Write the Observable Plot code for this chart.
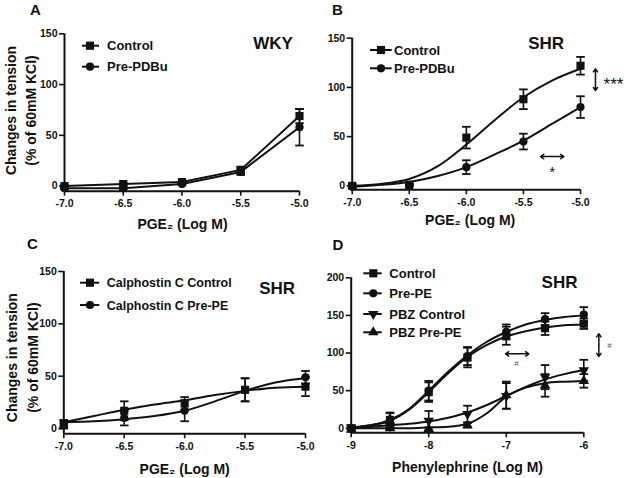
<!DOCTYPE html>
<html><head><meta charset="utf-8">
<script src="https://cdn.jsdelivr.net/npm/d3@7"></script>
<script src="https://cdn.jsdelivr.net/npm/@observablehq/plot@0.6"></script>
<style>
body{margin:0;background:#fff;}
#fig{position:relative;width:629px;height:478px;overflow:hidden;background:#fff;}
#fig svg{position:absolute;}
</style></head><body><div id="fig"></div>
<script>
// ---------- data ----------
// Panel A (WKY, PGE2)
const doseA = [-7, -6.5, -6, -5.5, -5];
const aControl = [0, 2, 4, 16, 69];
const aControlSem = [1, 1, 1, 3, 7];
const aPre = [-2, -2, 2, 14, 58];
const aPreSem = [1, 1, 1, 3, 18];

// Panel B (SHR, PGE2)
const doseB = [-7, -6.5, -6, -5.5, -5];
const bControl = [0, 1, 49, 88, 122];
const bControlSem = [2, 1, 11, 10, 9];
const bPre = [-1, 1, 19, 45, 80];
const bPreSem = [1, 1, 7, 8, 11];
const fitDoseB = [-7, -6.75, -6.5, -6.25, -6, -5.75, -5.5, -5.25, -5];
const bControlFit = [0, 2, 7, 20, 42, 67, 90, 107, 119];
const bPreFit = [-1, 1, 4, 10, 19, 32, 46, 63, 80];

// Panel C (SHR, Calphostin C)
const doseC = [-7, -6.5, -6, -5.5, -5];
const cControl = [4, 17, 24, 37, 40];
const cControlSem = [4, 9, 6, 11, 9];
const cPre = [5, 10, 17, 37, 49];
const cPreSem = [3, 7, 10, 11, 6];
const fitDoseC = [-7, -6.75, -6.5, -6.25, -6, -5.75, -5.5, -5.25, -5];
const cControlFit = [6, 12, 18, 23, 27, 32, 36, 39, 40];
const cPreFit = [6, 7, 9, 12, 17, 26, 36, 44, 48];

// Panel D (SHR, phenylephrine)
const doseD = [-9, -8.5, -8, -7.5, -7, -6.5, -6];
const dControl = [0, 11, 48, 94, 123, 133, 139];
const dControlSem = [2, 10, 13, 13, 12, 9, 7];
const dPre = [0, 12, 50, 96, 128, 145, 151];
const dPreSem = [2, 8, 13, 12, 10, 8, 10];
const dPbzControl = [1, 3, 10, 19, 43, 68, 77];
const dPbzControlSem = [2, 4, 13, 11, 17, 16, 14];
const dPbzPre = [-2, 0, -1, 4, 44, 57, 63];
const dPbzPreSem = [2, 2, 2, 3, 18, 15, 9];
const fitDoseD = [-9, -8.75, -8.5, -8.25, -8, -7.75, -7.5, -7.25, -7, -6.75, -6.5, -6.25, -6];
const dControlFit = [1, 4, 10, 25, 48, 73, 95, 111, 122, 129, 134, 137, 138];
const dPreFit = [1, 4, 11, 26, 50, 75, 97, 115, 128, 138, 144, 148, 150];
const dPbzControlFit = [1, 2, 4, 6, 9, 14, 21, 31, 43, 55, 65, 72, 77];
const dPbzPreFit = [0, 0, 0, 0, 1, 2, 6, 20, 42, 54, 60, 62, 63];

// tick values
const ticksPGE = [-7, -6.5, -6, -5.5, -5];
const ticksPE = [-9, -8, -7, -6];
const ticksY150 = [0, 50, 100, 150];
const ticksY200 = [0, 50, 100, 150, 200];

// ---------- style helpers ----------
const INK = "#111";
const FONT = "'Liberation Sans', Arial, sans-serif";
const sqrt3 = Math.sqrt(3);
const triangleDown = {draw(ctx, size) {
  const y = -Math.sqrt(size / (sqrt3 * 3));
  ctx.moveTo(0, -2 * y); ctx.lineTo(-sqrt3 * y, y); ctx.lineTo(sqrt3 * y, y); ctx.closePath();
}};
const capSym = {draw(ctx, size) {
  const w = Math.sqrt(size / Math.PI);
  ctx.moveTo(-w, 0); ctx.lineTo(w, 0);
}};
const SYM = {square: d3.symbolSquare, circle: d3.symbolCircle, up: d3.symbolTriangle, down: triangleDown};
const RAD = {square: 4.6, circle: 4.1, up: 3.9, down: 3.9};

function legendMark(series, o) {
  return (index, scales, values, dims) => {
    const g = d3.create("svg:g");
    const L = dims.marginLeft, T = dims.marginTop;
    series.forEach((s, i) => {
      const y = T + o.rows[i];
      g.append("line").attr("x1", L + o.lx1).attr("x2", L + o.lx2).attr("y1", y).attr("y2", y)
        .attr("stroke", INK).attr("stroke-width", 2);
      g.append("path").attr("transform", `translate(${L + o.mx},${y})`)
        .attr("d", d3.symbol(SYM[s.sym], Math.PI * RAD[s.sym] ** 2)()).attr("fill", INK);
      g.append("text").attr("x", L + o.tx).attr("y", y).attr("dy", "0.36em")
        .attr("text-anchor", "start")
        .attr("font-size", o.fs).attr("font-weight", "bold").attr("font-family", FONT)
        .attr("fill", INK).text(s.label);
    });
    return g.node();
  };
}

function dblArrow(x1, y1, x2, y2) {
  const mx = (x1 + x2) / 2, my = (y1 + y2) / 2;
  const o = {stroke: INK, strokeWidth: 1.5, headLength: 5, headAngle: 70};
  return [
    Plot.arrow([0], {x1: mx, y1: my, x2: x1, y2: y1, ...o}),
    Plot.arrow([0], {x1: mx, y1: my, x2: x2, y2: y2, ...o})
  ];
}

function makePanel(cfg) {
  const rows = [];
  cfg.series.forEach((s, si) => s.y.forEach((v, i) => rows.push({s: si, dose: s.x[i], mean: v, sem: s.e[i]})));
  const marks = [
    Plot.ruleY([cfg.yDomain[0]], {stroke: INK, strokeWidth: 2}),
    Plot.ruleX([cfg.xDomain[0]], {stroke: INK, strokeWidth: 2}),
    Plot.axisX({ticks: cfg.xTicks, tickFormat: cfg.xFmt, tickSize: 5, tickPadding: 3.5,
      strokeWidth: 1.6, fontSize: 10.5, fontWeight: "bold", label: null}),
    Plot.axisY({ticks: cfg.yTicks, tickFormat: d => String(d), tickSize: 5, tickPadding: 2,
      strokeWidth: 1.6, fontSize: 10.5, fontWeight: "bold", label: null})
  ];
  if (cfg.fits) {
    const fr = [];
    cfg.fits.forEach((f, si) => f.y.forEach((v, i) => fr.push({s: si, dose: f.x[i], v})));
    marks.push(Plot.line(fr, {x: "dose", y: "v", z: "s", curve: "monotone-x", stroke: INK, strokeWidth: 2}));
  } else {
    marks.push(Plot.line(rows, {x: "dose", y: "mean", z: "s", stroke: INK, strokeWidth: 2}));
  }
  marks.push(Plot.ruleX(rows, {x: "dose", y1: d => d.mean - d.sem, y2: d => d.mean + d.sem, stroke: INK, strokeWidth: 1.6}));
  marks.push(Plot.dot(rows, {x: "dose", y: d => d.mean + d.sem, symbol: capSym, r: 4.3, stroke: INK, strokeWidth: 1.8, fill: "none"}));
  marks.push(Plot.dot(rows, {x: "dose", y: d => d.mean - d.sem, symbol: capSym, r: 4.3, stroke: INK, strokeWidth: 1.8, fill: "none"}));
  cfg.series.forEach((s, si) => marks.push(Plot.dot(rows.filter(r => r.s === si),
    {x: "dose", y: "mean", symbol: SYM[s.sym], r: RAD[s.sym], fill: INK, stroke: "none"})));
  // texts
  const T = {fontWeight: "bold", fill: INK, textAnchor: "middle", lineAnchor: "middle"};
  marks.push(Plot.text([cfg.letter], {frameAnchor: "top-left", dx: cfg.letterPos[0], dy: cfg.letterPos[1], fontSize: 15, ...T}));
  marks.push(Plot.text([cfg.strain], {frameAnchor: "top-left", dx: cfg.strainPos[0], dy: cfg.strainPos[1], fontSize: 17, ...T}));
  marks.push(Plot.text([cfg.xTitle], {frameAnchor: "bottom", dx: cfg.xTitlePos[0], dy: cfg.xTitlePos[1], fontSize: 14, ...T}));
  if (cfg.yTitle) marks.push(Plot.text([cfg.yTitle], {frameAnchor: "left", dx: cfg.yTitlePos[0], dy: cfg.yTitlePos[1],
    rotate: -90, lineHeight: 1.45, fontSize: 14, ...T}));
  marks.push(legendMark(cfg.series, cfg.legend));
  if (cfg.annot) marks.push(...cfg.annot);
  const svg = Plot.plot({
    width: cfg.width, height: cfg.height,
    marginTop: cfg.m[0], marginRight: cfg.m[1], marginBottom: cfg.m[2], marginLeft: cfg.m[3],
    x: {domain: cfg.xDomain}, y: {domain: cfg.yDomain},
    style: {fontFamily: FONT, fontWeight: "bold", color: INK, background: "transparent", overflow: "visible"},
    marks
  });
  svg.style.left = cfg.left + "px";
  svg.style.top = cfg.top + "px";
  return svg;
}

const fmt1 = d => d.toFixed(1);
const fmt0 = d => String(d);
const yTitle = "Changes in tension\n(% of 60mM KCl)";
const fig = document.getElementById("fig");

fig.append(makePanel({
  left: 0, top: 0, width: 315, height: 235, m: [33.3, 16, 44.3, 64],
  xDomain: [-7, -5], yDomain: [-5, 150], xTicks: ticksPGE, yTicks: ticksY150, xFmt: fmt1,
  series: [
    {label: "Control", sym: "square", x: doseA, y: aControl, e: aControlSem},
    {label: "Pre-PDBu", sym: "circle", x: doseA, y: aPre, e: aPreSem}
  ],
  letter: "A", letterPos: [-29, -23.3], strain: "WKY", strainPos: [208.5, 9.7],
  xTitle: "PGE₂ (Log M)", xTitlePos: [0.5, 33.3], yTitle, yTitlePos: [-45, -2],
  legend: {rows: [12.4, 33.4], lx1: 18, lx2: 35, mx: 26, tx: 43, fs: 13}
}));

fig.append(makePanel({
  left: 315, top: 0, width: 314, height: 235, m: [37.7, 49, 45.7, 36.7],
  xDomain: [-7, -5], yDomain: [-4, 150], xTicks: ticksPGE, yTicks: ticksY150, xFmt: fmt1,
  series: [
    {label: "Control", sym: "square", x: doseB, y: bControl, e: bControlSem},
    {label: "Pre-PDBu", sym: "circle", x: doseB, y: bPre, e: bPreSem}
  ],
  fits: [{x: fitDoseB, y: bControlFit}, {x: fitDoseB, y: bPreFit}],
  letter: "B", letterPos: [-14.7, -27.7], strain: "SHR", strainPos: [194, 5.3],
  xTitle: "PGE₂ (Log M)", xTitlePos: [3.8, 30.7],
  legend: {rows: [12.3, 30.6], lx1: 18.3, lx2: 40, mx: 29.3, tx: 42.3, fs: 13},
  annot: [
    ...dblArrow(-4.869, 118.9, -4.869, 96.9),
    Plot.text(["***"], {x: -4.711, y: 107.7, dy: 4.4, fontSize: 17, fontWeight: "normal", fill: INK}),
    ...dblArrow(-5.350, 29.8, -5.146, 29.8),
    Plot.text(["*"], {x: -5.248, y: 17.3, dy: 3.6, fontSize: 14, fontWeight: "normal", fill: INK})
  ]
}));

fig.append(makePanel({
  left: 0, top: 235, width: 315, height: 243, m: [36, 10, 44.7, 63.3],
  xDomain: [-7, -5], yDomain: [-5, 150], xTicks: ticksPGE, yTicks: ticksY150, xFmt: fmt1,
  series: [
    {label: "Calphostin C Control", sym: "square", x: doseC, y: cControl, e: cControlSem},
    {label: "Calphostin C Pre-PE", sym: "circle", x: doseC, y: cPre, e: cPreSem}
  ],
  fits: [{x: fitDoseC, y: cControlFit}, {x: fitDoseC, y: cPreFit}],
  letter: "C", letterPos: [-31.3, -27], strain: "SHR", strainPos: [213.4, 17.3],
  xTitle: "PGE₂ (Log M)", xTitlePos: [0, 35.4], yTitle, yTitlePos: [-42.8, 5],
  legend: {rows: [11.7, 34], lx1: 16.7, lx2: 36, mx: 26.7, tx: 43.4, fs: 12.5}
}));

fig.append(makePanel({
  left: 315, top: 235, width: 314, height: 243, m: [42.3, 45.7, 45.7, 35.7],
  xDomain: [-9, -6], yDomain: [-6, 200], xTicks: ticksPE, yTicks: ticksY200, xFmt: fmt0,
  series: [
    {label: "Control", sym: "square", x: doseD, y: dControl, e: dControlSem},
    {label: "Pre-PE", sym: "circle", x: doseD, y: dPre, e: dPreSem},
    {label: "PBZ Control", sym: "down", x: doseD, y: dPbzControl, e: dPbzControlSem},
    {label: "PBZ Pre-PE", sym: "up", x: doseD, y: dPbzPre, e: dPbzPreSem}
  ],
  fits: [{x: fitDoseD, y: dControlFit}, {x: fitDoseD, y: dPreFit}, {x: fitDoseD, y: dPbzControlFit}, {x: fitDoseD, y: dPbzPreFit}],
  letter: "D", letterPos: [-13.2, -32.3], strain: "SHR", strainPos: [208.3, 4.4],
  xTitle: "Phenylephrine (Log M)", xTitlePos: [0, 35.2],
  legend: {rows: [-4, 16, 36.7, 55], lx1: 12.6, lx2: 31, mx: 22.6, tx: 38.6, fs: 13},
  annot: [
    ...dblArrow(-7.010, 99, -6.709, 99),
    Plot.text(["#"], {x: -6.868, y: 85.7, fontSize: 8, fontWeight: "normal", fill: "#555"}),
    ...dblArrow(-5.806, 125.6, -5.806, 95.4),
    Plot.text(["#"], {x: -5.668, y: 110, fontSize: 8, fontWeight: "normal", fill: "#555"})
  ]
}));
</script></body></html>
